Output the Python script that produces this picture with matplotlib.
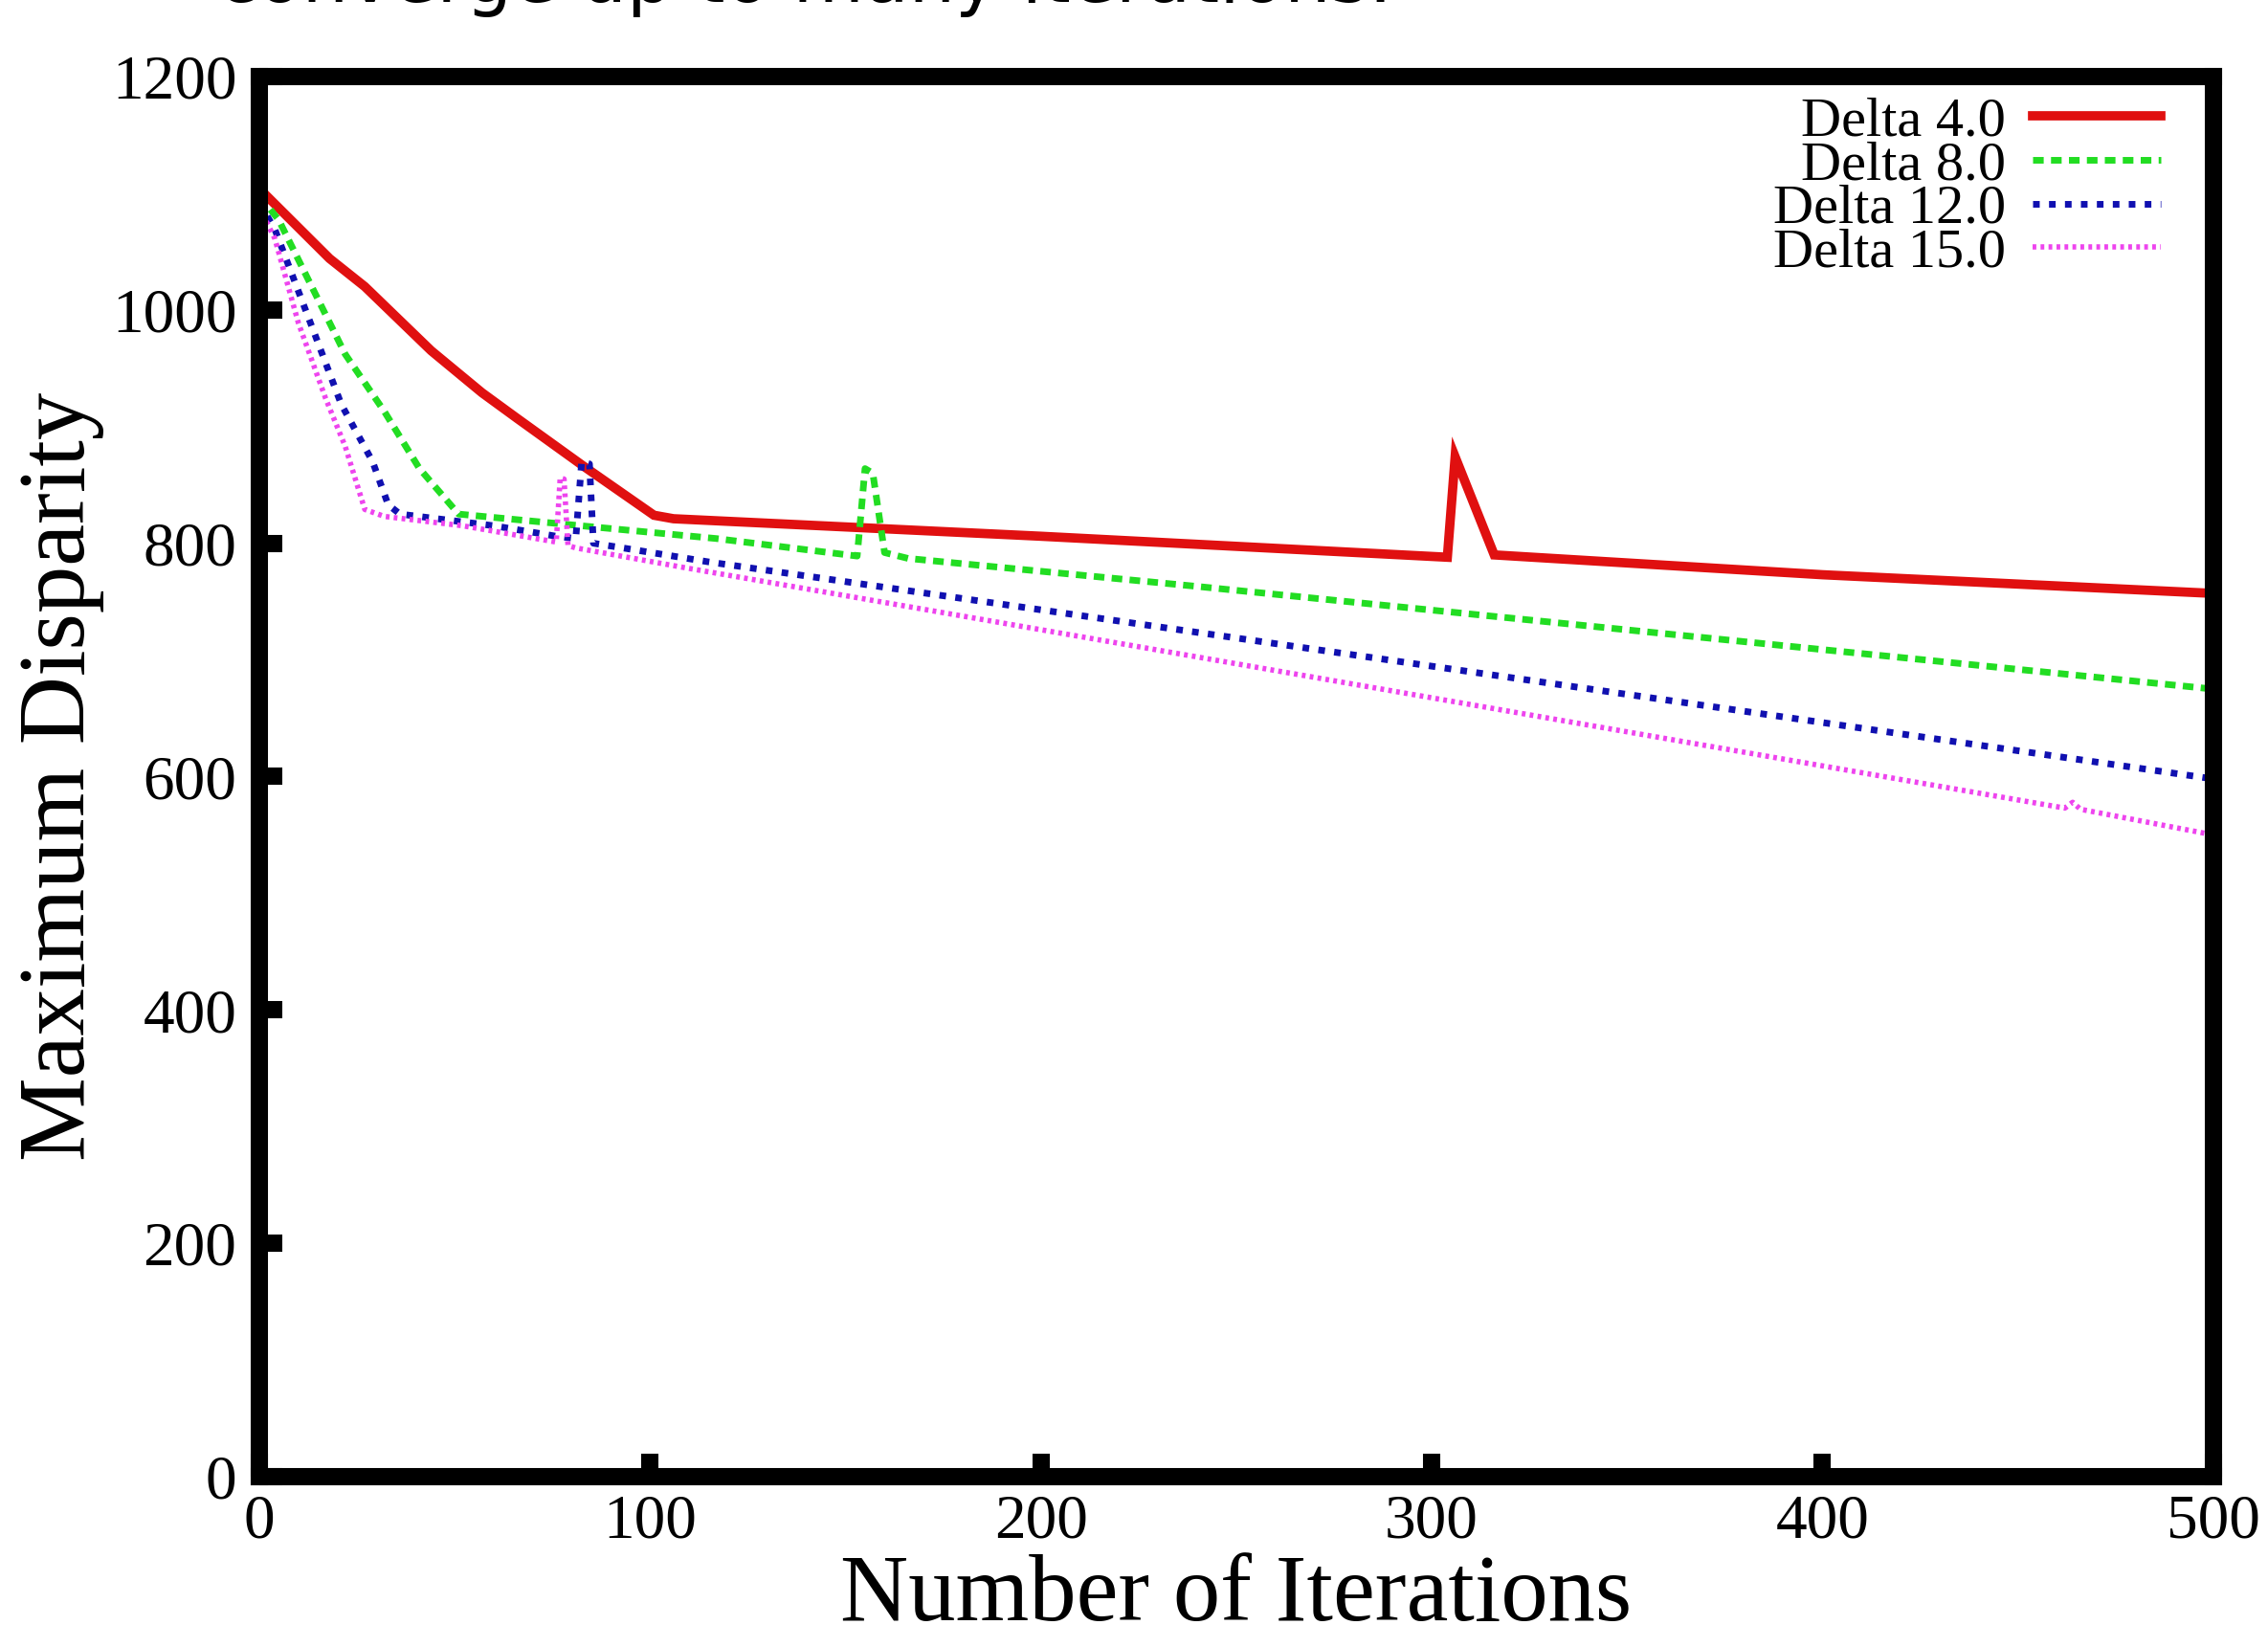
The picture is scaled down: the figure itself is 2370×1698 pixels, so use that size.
#!/usr/bin/env python3
"""Maximum disparity vs iterations for several delta values."""

import matplotlib
matplotlib.use("Agg")
import matplotlib.pyplot as plt

SERIF = "Liberation Serif"

# series
d4_x = [0, 18, 27, 44, 57, 66, 83, 101, 106, 200, 304, 306, 316, 400, 500]
d4_y = [1104, 1044, 1020, 965, 929, 907, 866, 824, 821, 806, 788, 874, 790, 773, 757]

d8_x = [0, 5, 22, 32, 41, 51, 76, 117, 153, 155, 157, 160, 166, 240, 500]
d8_y = [1098, 1077, 962, 913, 864, 825, 817, 804, 789, 864, 860, 792, 787, 763, 675]

d12_x = [0, 4, 14, 21, 29, 33, 36, 60, 76, 81, 82.5, 84.5, 85.5, 93, 115, 500]
d12_y = [1092, 1069, 981, 919, 870, 833, 825, 815, 806, 804, 870, 868, 800, 796, 784, 598]

d15_x = [0, 4, 10, 17, 22, 27, 32, 52, 76, 77, 78, 79, 81, 109, 462, 464, 466, 500]
d15_y = [1088, 1061, 989, 924, 883, 829, 823, 815, 801, 856, 855, 798, 796, 779, 573, 578, 572, 550]

labels = ["Delta 4.0", "Delta 8.0", "Delta 12.0", "Delta 15.0"]
x_ticks = [0, 100, 200, 300, 400, 500]
y_ticks = [0, 200, 400, 600, 800, 1000, 1200]

fig = plt.figure(figsize=(23.7, 16.98), dpi=100)
ax = fig.add_axes([0.1143, 0.0913, 0.8616, 0.8616])

ax.plot(d4_x, d4_y, color="#e01010", lw=7, solid_joinstyle="miter", label=labels[0])
ax.plot(d8_x, d8_y, color="#22dd22", lw=5, dashes=(1.6, 1.1), label=labels[1])
ax.plot(d12_x, d12_y, color="#1010b0", lw=5, dashes=(1.0, 1.4), label=labels[2])
ax.plot(d15_x, d15_y, color="#ee44ee", lw=4, dashes=(0.7, 0.8), label=labels[3])

ax.set_xlim(0, 500)
ax.set_ylim(0, 1200)
ax.set_xticks(x_ticks)
ax.set_yticks(y_ticks)
ax.tick_params(direction="in", length=17, width=13, labelsize=47)
ax.tick_params(axis="x", pad=13)
ax.tick_params(axis="y", pad=17)
for lab in ax.get_xticklabels() + ax.get_yticklabels():
    lab.set_family(SERIF)
for sp in ax.spines.values():
    sp.set_linewidth(13)

ax.set_xlabel("Number of Iterations", family=SERIF, fontsize=71, va="baseline")
ax.xaxis.set_label_coords(0.5, -0.1025)
ax.set_ylabel("Maximum Disparity", family=SERIF, fontsize=71, va="baseline")
ax.yaxis.set_label_coords(-0.0896, 0.5)

ax.legend(loc="upper right", bbox_to_anchor=(0.973, 0.986), frameon=False,
          markerfirst=False, borderpad=0, borderaxespad=0,
          handlelength=2.3, handletextpad=0.47, labelspacing=-0.12,
          prop={"family": SERIF, "size": 42})

# partly cut-off slide text above the chart
fig.text(0.0958, 1 - 2 / 1698, "converge up to many iterations.",
         fontsize=55, family="DejaVu Sans", va="baseline")

fig.savefig("out.png", dpi=100)
